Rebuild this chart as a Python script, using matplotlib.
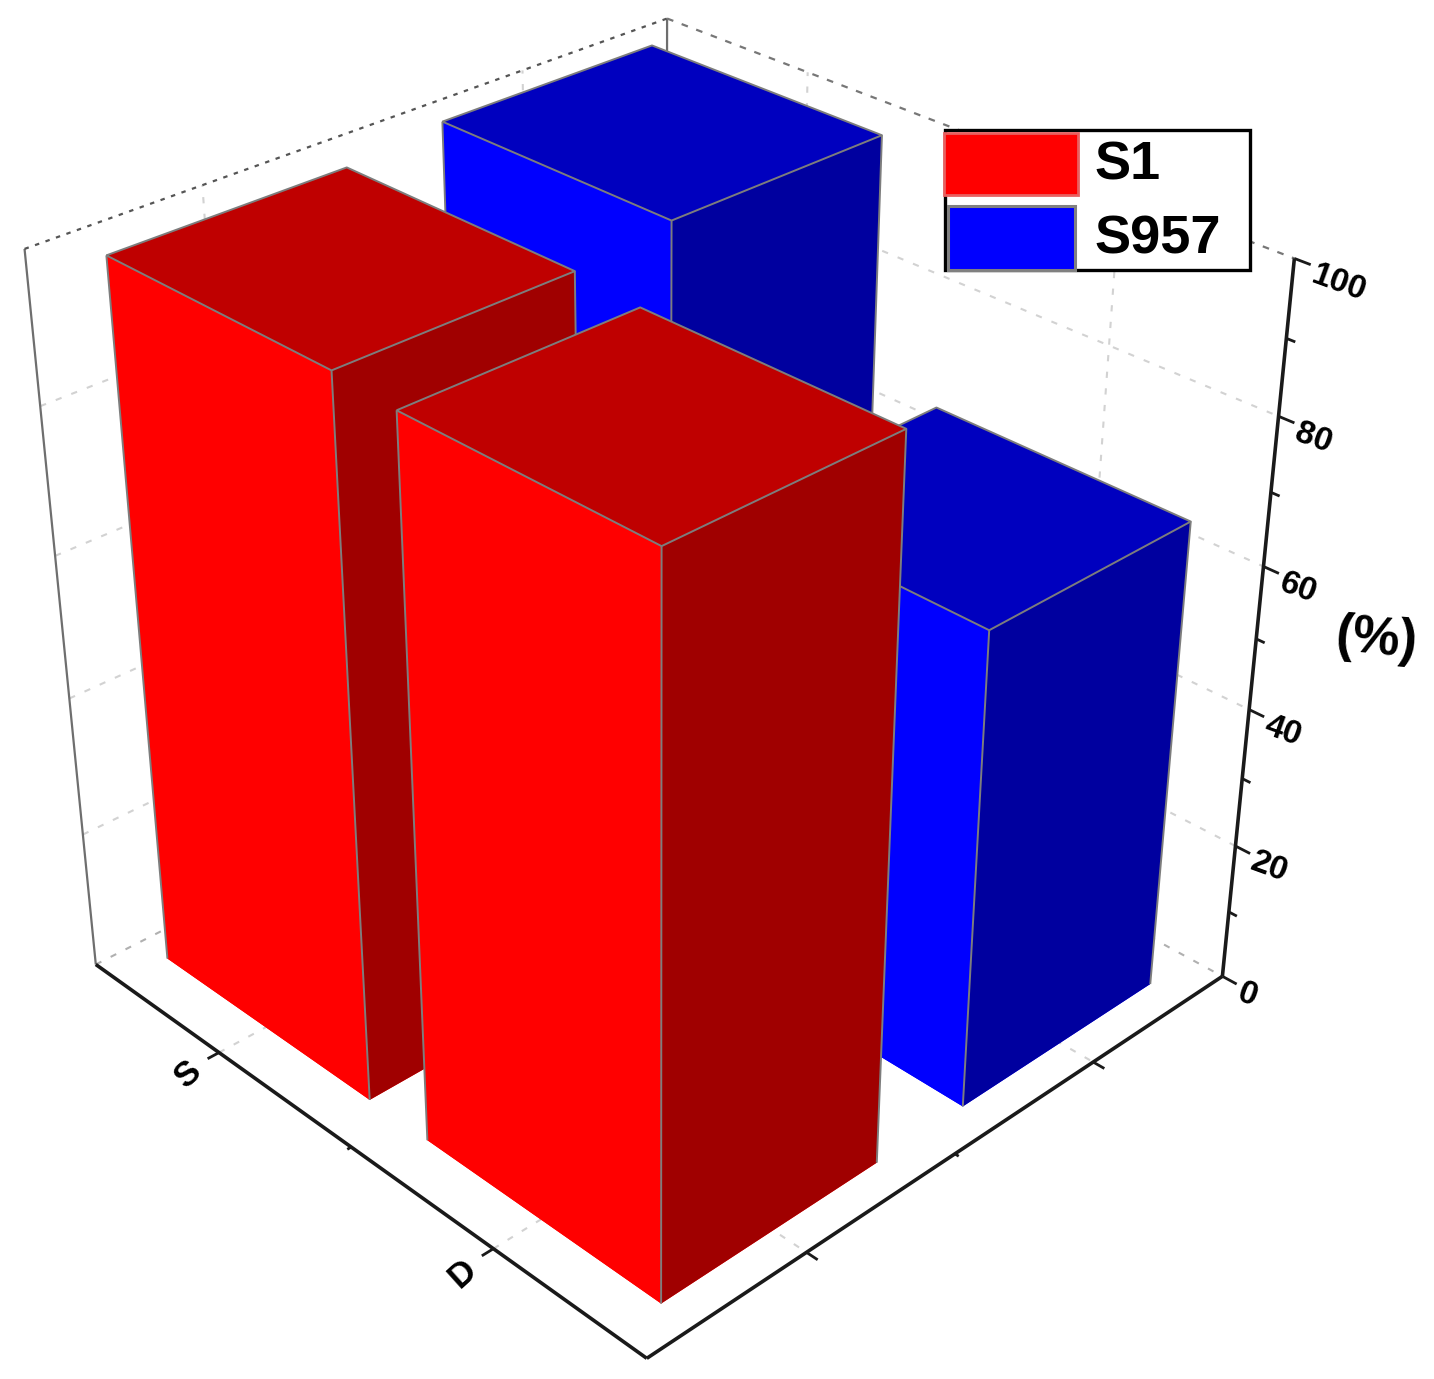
import numpy as np
import matplotlib
matplotlib.use('Agg')
import matplotlib.pyplot as plt
from matplotlib.patches import Rectangle
from mpl_toolkits.mplot3d import proj3d

plt.rcParams['font.family'] = ['Liberation Sans', 'DejaVu Sans']

categories = ['S', 'D']
series = ['S1', 'S957']
s1_values = [98.6, 97.8]
s957_values = [100, 67]
z_ticks = [0, 20, 40, 60, 80, 100]
z_minor = [10, 30, 50, 70, 90]

W, H = 1434, 1379
GRID = '#d2d2d2'
EDGE = '#7d7d7d'
AXIS = '#1a1a1a'
DASH = (0, (3, 5))

fig = plt.figure(figsize=(W / 100, H / 100), dpi=100)
# camera fitted to the frame corners of the original
side = 1413.95
ax = fig.add_axes([-68.31 / W, 19.48 / H, side / W, side / H], projection='3d')
ax.computed_zorder = False
ax.set_xlim(-0.5, 1.5)
ax.set_ylim(-0.5, 1.5)
ax.set_zlim(0, 100)
ax.view_init(elev=31.096, azim=-44.012)
ax.set_proj_type('persp', focal_length=0.4715)
ax.set_box_aspect((1, 0.9993, 0.9874))
ax.set_axis_off()

x0, x1, y0, y1 = -0.5, 1.5, -0.5, 1.5
def line3(xs, ys, zs, **kw):
    ax.plot(xs, ys, zs, solid_capstyle='butt', **kw)

def label3(x, y, z, s, **kw):
    px, py, _ = proj3d.proj_transform(x, y, z, ax.get_proj())
    ax.text2D(px, py, s, transform=ax.transData, fontweight='bold', rotation_mode='anchor',
              va='center', **kw)

# walls grid
for z in z_ticks[1:-1]:
    line3([x0, x0], [y0, y1], [z, z], color=GRID, lw=1.5, ls=DASH, zorder=1)
    line3([x0, x1], [y1, y1], [z, z], color=GRID, lw=1.5, ls=DASH, zorder=1)
for t in [0, 1]:
    line3([x0, x0], [t, t], [0, 100], color=GRID, lw=1.5, ls=DASH, zorder=1)
    line3([t, t], [y1, y1], [0, 100], color=GRID, lw=1.5, ls=DASH, zorder=1)
    line3([t, t], [y0, y1], [0, 0], color=GRID, lw=1.5, ls=DASH, zorder=1)
    line3([x0, x1], [t, t], [0, 0], color=GRID, lw=1.5, ls=DASH, zorder=1)
line3([x0, x0], [y0, y1], [0, 0], color='#b0b0b0', lw=1.5, ls=DASH, zorder=1)
line3([x0, x1], [y1, y1], [0, 0], color='#b0b0b0', lw=1.5, ls=DASH, zorder=1)
# wall frame
line3([x0, x0], [y0, y0], [0, 100], color='#6e6e6e', lw=1.6, zorder=1)
line3([x0, x0], [y1, y1], [0, 100], color='#6e6e6e', lw=1.6, zorder=1)
line3([x0, x0], [y0, y1], [100, 100], color='#555555', lw=1.6, ls=(0, (2, 3)), zorder=1)
line3([x0, x1], [y1, y1], [100, 100], color='#777777', lw=1.6, ls=(0, (3, 4)), zorder=1)

# bars, back to front
bar_w = 0.79
bar_d = 0.70
# face order of bar3d: bottom, top, -y, +y, -x, +x
red = ['#ff0000', '#bf0000', '#ff0000', '#ff0000', '#a00000', '#a00000']
blue = ['#0000ff', '#0000bf', '#0000ff', '#0000ff', '#00009f', '#00009f']
order = [(0, 1, s957_values, blue), (0, 0, s1_values, red), (1, 1, s957_values, blue), (1, 0, s1_values, red)]
for k, (i, j, vals, cols) in enumerate(order):
    bx0, by0 = i - bar_w / 2, j - 0.005 - bar_d / 2
    bx1, by1 = bx0 + bar_w, by0 + bar_d
    h = vals[i]
    ax.bar3d(bx0, by0, 0, bar_w, bar_d, h, color=cols, shade=False, edgecolor='none', zorder=2 + k)
    # only the upper rim and the three visible uprights carry an edge
    line3([bx0, bx1, bx1, bx0, bx0], [by0, by0, by1, by1, by0], [h] * 5, color=EDGE, lw=1.4, zorder=2 + k)
    for ex, ey in [(bx0, by0), (bx1, by0), (bx1, by1)]:
        line3([ex, ex], [ey, ey], [0, h], color=EDGE, lw=1.4, zorder=2 + k)

# axes
line3([x0, x1], [y0, y0], [0, 0], color=AXIS, lw=2.6, zorder=8)
line3([x1, x1], [y0, y1], [0, 0], color=AXIS, lw=2.6, zorder=8)
line3([x1, x1], [y1, y1], [0, 100], color=AXIS, lw=2.6, zorder=8)
for t, ln in [(0, 0.035), (0.5, 0.012), (1, 0.035)]:
    line3([t, t], [y0, y0 - ln], [0, 0], color=AXIS, lw=2, zorder=8)
    line3([x1, x1 + ln], [t, t], [0, 0], color=AXIS, lw=2, zorder=8)
for z in z_ticks:
    line3([x1, x1 + 0.045], [y1, y1], [z, z], color=AXIS, lw=2, zorder=8)
for z in z_minor:
    line3([x1, x1 + 0.025], [y1, y1], [z, z], color=AXIS, lw=2, zorder=8)

# tick labels follow the axis directions
for i, name in enumerate(categories):
    label3(i + 0.015, y0 - 0.105, 0, name, fontsize=25, rotation=42, ha='center')
for z in z_ticks:
    label3(x1 + 0.052, y1, z - 1.0, str(z), fontsize=24, rotation=-20, ha='left')
fig.text(1376 / W, 1 - 640 / H, '(%)', fontsize=38, fontweight='bold', rotation=-5,
         ha='center', va='center', rotation_mode='anchor')

# legend
def px_rect(x, y, w, h, **kw):
    fig.add_artist(Rectangle((x / W, 1 - (y + h) / H), w / W, h / H, transform=fig.transFigure, **kw))

px_rect(945, 130, 305, 140, facecolor='white', edgecolor='black', linewidth=2.4)
px_rect(944, 133, 134, 62, facecolor='#ff0000', edgecolor='#e86060', linewidth=2)
px_rect(947.5, 206, 127, 64, facecolor='#0000ff', edgecolor='#808080', linewidth=2.2)
fig.text(1094 / W, 1 - 166 / H, series[0], fontsize=39, fontweight='bold', ha='left', va='center')
fig.text(1094 / W, 1 - 239 / H, series[1], fontsize=39, fontweight='bold', ha='left', va='center')

fig.savefig('out.png', dpi=100)
